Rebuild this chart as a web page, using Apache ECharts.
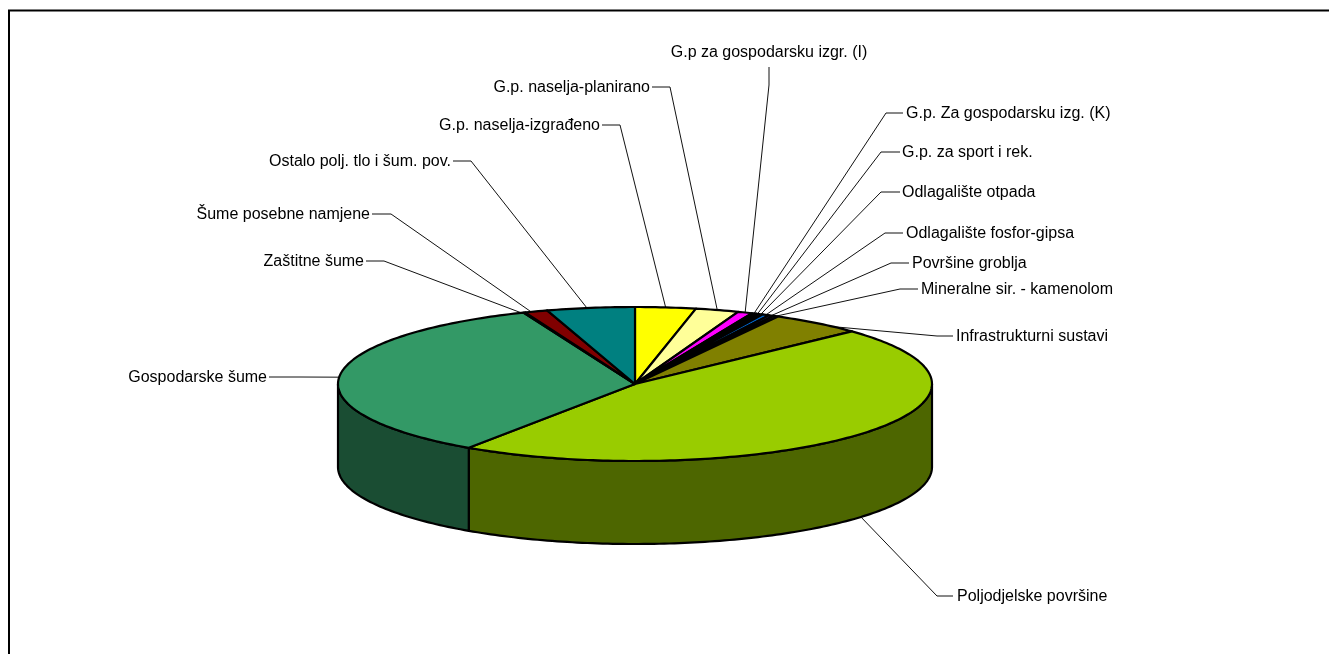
<!DOCTYPE html>
<html><head><meta charset="utf-8">
<style>html,body{margin:0;padding:0;background:#fff}#c{width:1329px;height:654px}</style>
<script src="https://cdn.jsdelivr.net/npm/echarts@6/dist/echarts.min.js"></script>
</head><body><div id="c"></div>
<script>
// Data: clockwise from 12 o'clock
const categories = ['G.p. naselja-izgrađeno','G.p. naselja-planirano','G.p za gospodarsku izgr. (I)','G.p. Za gospodarsku izg. (K)','G.p. za sport i rek.','Odlagalište otpada','Odlagalište fosfor-gipsa','Površine groblja','Mineralne sir. - kamenolom','Infrastrukturni sustavi','Poljodjelske površine','Gospodarske šume','Zaštitne šume','Šume posebne namjene','Ostalo polj. tlo i šum. pov.'];
const values = [3.29,2.35,0.81,0.22,0.19,0.2,0.4,0.26,0.28,5.03,46.4,34.4,0.1,1.25,4.78];
const colors = ['#FFFF00','#FFFF99','#FF00FF','#000080','#003300','#333300','#0066CC','#333399','#333333','#808000','#99CC00','#339966','#003300','#800000','#008080'];
const sideColors = ['#808000','#80804D','#800080','#000040','#001A00','#1A1A00','#003366','#1A1A4D','#1A1A1A','#404000','#4D6600','#1A4D33','#001A00','#400000','#004040'];

// Layout only: label text anchor, leader start, elbow, attach-angle nudge (degrees)
const labelLayout = [
 {x:600,y:125,a:'right',s:[602,125],e:[620,125],n:0},
 {x:650,y:87,a:'right',s:[652,87],e:[670,87],n:0},
 {x:769,y:52,a:'center',s:[769,67],e:[769,85],n:0},
 {x:906,y:113,a:'left',s:[903,113],e:[886,113],n:0},
 {x:902,y:152,a:'left',s:[900,152],e:[881,152],n:0},
 {x:902,y:192,a:'left',s:[900,192],e:[881,192],n:0},
 {x:906,y:233,a:'left',s:[903,233],e:[885,233],n:0},
 {x:912,y:263,a:'left',s:[909,263],e:[891,263],n:0},
 {x:921,y:289,a:'left',s:[918,289],e:[900,289],n:0},
 {x:956,y:336,a:'left',s:[953,336],e:[937,336],n:4},
 {x:957,y:596,a:'left',s:[953,596],e:[937,596],n:0},
 {x:267,y:377,a:'right',s:[269,377],e:[300,377],n:-0.9},
 {x:364,y:261,a:'right',s:[366,261],e:[384,261],n:-0.6},
 {x:370,y:214,a:'right',s:[372,214],e:[391,214],n:-1},
 {x:451,y:161,a:'right',s:[453,161],e:[471,161],n:-0.7}
];
const CX=635, CY=384, RX=297, RY=77, DEPTH=83, EDGE=2.2;

const total = values.reduce((a,b)=>a+b,0);
const ranges = []; let acc=0;
values.forEach(v=>{ranges.push([acc/total*360,(acc+v)/total*360]);acc+=v;});
const pt=(deg,dy)=>{const r=deg*Math.PI/180;return [CX+RX*Math.sin(r),CY-RY*Math.cos(r)+(dy||0)];};
const arc=(a,b,dy)=>{const out=[],n=Math.max(2,Math.ceil((b-a)/1));for(let i=0;i<=n;i++)out.push(pt(a+(b-a)*i/n,dy));return out;};

const dataItems = categories.map((name,i)=>({name,value:values[i]}));

function renderSide(p){
  const i=p.dataIndex,[a,b]=ranges[i];
  const s=Math.max(a,90),e=Math.min(b,270);
  if(e<=s) return {type:'group',children:[]};
  const pts=arc(s,e,0).concat(arc(s,e,DEPTH).reverse());
  return {type:'polygon',shape:{points:pts},style:{fill:sideColors[i],stroke:'#000',lineWidth:EDGE,lineJoin:'round'}};
}
function renderTop(p){
  const i=p.dataIndex,[a,b]=ranges[i];
  const pts=[[CX,CY]].concat(arc(a,b,0));
  return {type:'polygon',shape:{points:pts},style:{fill:colors[i],stroke:'#000',lineWidth:EDGE,lineJoin:'round'}};
}
function renderLabel(p){
  const i=p.dataIndex,[a,b]=ranges[i],L=labelLayout[i];
  const mid=(a+b)/2+L.n;
  const cosv=Math.cos(mid*Math.PI/180);
  const end=pt(mid,cosv<0?DEPTH:0);
  return {type:'group',children:[
    {type:'polyline',shape:{points:[L.s,L.e,end]},style:{fill:null,stroke:'#111',lineWidth:1}},
    {type:'text',style:{text:categories[i],x:L.x,y:L.y+1,textAlign:L.a,textVerticalAlign:'middle',fill:'#000',font:'16px "Liberation Sans", Arial, sans-serif'}}
  ]};
}
const chart=echarts.init(document.getElementById('c'),null,{width:1329,height:654});
chart.setOption({
  animation:false,
  backgroundColor:'#fff',
  graphic:[{type:'polyline',silent:true,shape:{points:[[9,654],[9,10.5],[1329,10.5]]},style:{fill:null,stroke:'#000',lineWidth:2}}],
  series:[
    {type:'custom',coordinateSystem:'none',silent:true,z:1,data:dataItems,renderItem:renderLabel},
    {type:'custom',coordinateSystem:'none',silent:true,z:2,data:dataItems,renderItem:renderSide},
    {type:'custom',coordinateSystem:'none',silent:true,z:3,data:dataItems,renderItem:renderTop}
  ]
});
</script></body></html>
